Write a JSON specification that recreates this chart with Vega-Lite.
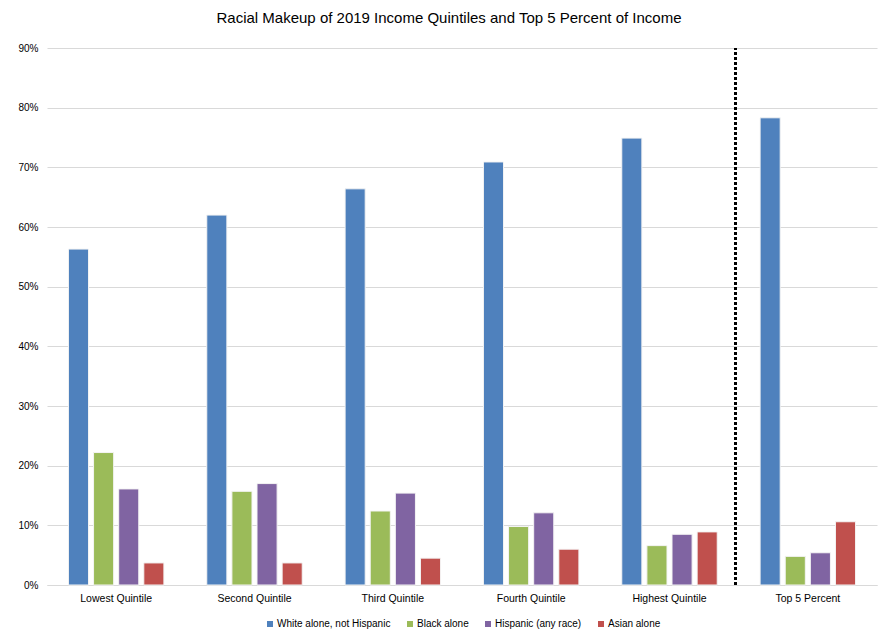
{
  "$schema": "https://vega.github.io/schema/vega-lite/v6.json",
  "width": 830,
  "height": 537,
  "autosize": {"type": "none"},
  "padding": {"left": 47, "top": 48, "right": 4, "bottom": 56},
  "background": "white",
  "title": {
    "text": "Racial Makeup of 2019 Income Quintiles and Top 5 Percent of Income",
    "font": "Liberation Sans",
    "fontSize": 15,
    "fontWeight": "normal",
    "color": "#000000",
    "anchor": "middle",
    "dx": -13,
    "offset": 17
  },
  "config": {
    "view": {"stroke": null},
    "font": "Liberation Sans"
  },
  "data": {
    "values": [
      {"group": "Lowest Quintile", "race": "White alone, not Hispanic", "pct": 56.3},
      {"group": "Lowest Quintile", "race": "Black alone", "pct": 22.2},
      {"group": "Lowest Quintile", "race": "Hispanic (any race)", "pct": 16.1},
      {"group": "Lowest Quintile", "race": "Asian alone", "pct": 3.7},
      {"group": "Second Quintile", "race": "White alone, not Hispanic", "pct": 62.0},
      {"group": "Second Quintile", "race": "Black alone", "pct": 15.7},
      {"group": "Second Quintile", "race": "Hispanic (any race)", "pct": 17.0},
      {"group": "Second Quintile", "race": "Asian alone", "pct": 3.7},
      {"group": "Third Quintile", "race": "White alone, not Hispanic", "pct": 66.4},
      {"group": "Third Quintile", "race": "Black alone", "pct": 12.4},
      {"group": "Third Quintile", "race": "Hispanic (any race)", "pct": 15.4},
      {"group": "Third Quintile", "race": "Asian alone", "pct": 4.5},
      {"group": "Fourth Quintile", "race": "White alone, not Hispanic", "pct": 70.9},
      {"group": "Fourth Quintile", "race": "Black alone", "pct": 9.8},
      {"group": "Fourth Quintile", "race": "Hispanic (any race)", "pct": 12.1},
      {"group": "Fourth Quintile", "race": "Asian alone", "pct": 6.0},
      {"group": "Highest Quintile", "race": "White alone, not Hispanic", "pct": 74.9},
      {"group": "Highest Quintile", "race": "Black alone", "pct": 6.6},
      {"group": "Highest Quintile", "race": "Hispanic (any race)", "pct": 8.5},
      {"group": "Highest Quintile", "race": "Asian alone", "pct": 8.9},
      {"group": "Top 5 Percent", "race": "White alone, not Hispanic", "pct": 78.3},
      {"group": "Top 5 Percent", "race": "Black alone", "pct": 4.8},
      {"group": "Top 5 Percent", "race": "Hispanic (any race)", "pct": 5.4},
      {"group": "Top 5 Percent", "race": "Asian alone", "pct": 10.6}
    ]
  },
  "layer": [
    {
      "mark": {"type": "bar", "stroke": "#f4f4f4", "strokeWidth": 1},
      "encoding": {
        "x": {
          "field": "group",
          "type": "nominal",
          "sort": null,
          "scale": {"paddingInner": 0.31, "paddingOuter": 0.155},
          "axis": {
            "title": null,
            "labelAngle": 0,
            "labelFont": "Liberation Sans",
            "labelFontSize": 10.5,
            "labelColor": "#000000",
            "labelPadding": 8,
            "ticks": false,
            "domainColor": "#d9d9d9",
            "domainWidth": 1
          }
        },
        "xOffset": {
          "field": "race",
          "type": "nominal",
          "sort": ["White alone, not Hispanic", "Black alone", "Hispanic (any race)", "Asian alone"],
          "scale": {"paddingInner": 0.2, "paddingOuter": 0}
        },
        "y": {
          "field": "pct",
          "type": "quantitative",
          "scale": {"domain": [0, 90], "nice": false},
          "axis": {
            "title": null,
            "values": [0, 10, 20, 30, 40, 50, 60, 70, 80, 90],
            "labelExpr": "datum.value + '%'",
            "labelFont": "Liberation Sans",
            "labelFontSize": 10,
            "labelColor": "#000000",
            "labelPadding": 9,
            "ticks": false,
            "domain": false,
            "gridColor": "#d9d9d9",
            "gridWidth": 1
          }
        },
        "color": {
          "field": "race",
          "type": "nominal",
          "sort": ["White alone, not Hispanic", "Black alone", "Hispanic (any race)", "Asian alone"],
          "scale": {
            "domain": ["White alone, not Hispanic", "Black alone", "Hispanic (any race)", "Asian alone"],
            "range": ["#4f81bd", "#9bbb59", "#8064a2", "#c0504d"]
          },
          "legend": {
            "title": null,
            "orient": "none",
            "legendX": 218,
            "legendY": 571,
            "direction": "horizontal",
            "symbolType": "square",
            "symbolSize": 36,
            "symbolStrokeWidth": 0,
            "labelFont": "Liberation Sans",
            "labelFontSize": 10,
            "labelColor": "#000000",
            "columnPadding": 14,
            "labelOffset": 2
          }
        }
      }
    },
    {
      "mark": {"type": "rule", "color": "#000000", "strokeDash": [3, 2], "strokeWidth": 2},
      "encoding": {
        "x": {"datum": "Top 5 Percent", "bandPosition": -0.26},
        "y": {"datum": 0},
        "y2": {"datum": 90}
      }
    }
  ]
}
